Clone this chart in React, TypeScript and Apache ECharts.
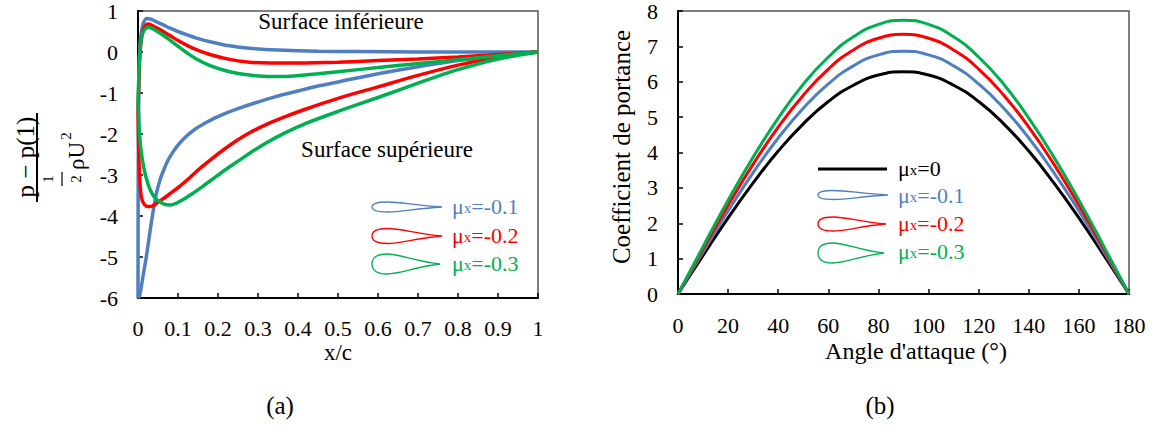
import React, { useEffect, useRef } from 'react';
import * as echarts from 'echarts';

// ---------- Data: (a) pressure distribution, x/c vs (p - p(1)) / (1/2 rho U^2) ----------
const blueUpper: number[][] = [[0,-6],[0.0005,-3],[0.002,-0.8],[0.005,0.2],[0.009,0.52],[0.014,0.72],[0.022,0.82],[0.032,0.8],[0.045,0.74],[0.063,0.66],[0.08,0.58],[0.1,0.5],[0.125,0.41],[0.146,0.34],[0.18,0.25],[0.229,0.15],[0.279,0.09],[0.35,0.05],[0.45,0.02],[0.55,0.01],[0.7,0],[0.85,0],[1,0]];
const blueLower: number[][] = [[0,-6],[0.004,-5.95],[0.012,-5.5],[0.021,-4.98],[0.03,-4.38],[0.038,-3.88],[0.046,-3.45],[0.055,-3.12],[0.065,-2.86],[0.075,-2.64],[0.088,-2.43],[0.1,-2.27],[0.115,-2.11],[0.13,-1.98],[0.146,-1.86],[0.165,-1.75],[0.19,-1.62],[0.22,-1.49],[0.25,-1.38],[0.29,-1.25],[0.34,-1.1],[0.4,-0.95],[0.45,-0.83],[0.5,-0.73],[0.6,-0.53],[0.7,-0.36],[0.8,-0.21],[0.9,-0.09],[1,0]];
const redUpper: number[][] = [[0,-1.5],[0.002,-0.8],[0.004,-0.2],[0.007,0.2],[0.012,0.5],[0.018,0.64],[0.026,0.68],[0.035,0.65],[0.05,0.57],[0.063,0.5],[0.08,0.4],[0.1,0.28],[0.125,0.15],[0.146,0.06],[0.18,-0.06],[0.229,-0.18],[0.279,-0.25],[0.33,-0.27],[0.4,-0.27],[0.5,-0.25],[0.6,-0.21],[0.7,-0.17],[0.8,-0.12],[0.9,-0.06],[1,0]];
const redLower: number[][] = [[0,-1.5],[0.001,-2.0],[0.003,-2.8],[0.006,-3.35],[0.01,-3.6],[0.016,-3.72],[0.024,-3.77],[0.032,-3.77],[0.042,-3.72],[0.055,-3.63],[0.07,-3.53],[0.085,-3.42],[0.105,-3.27],[0.13,-3.06],[0.155,-2.84],[0.185,-2.6],[0.213,-2.39],[0.245,-2.17],[0.279,-1.97],[0.32,-1.77],[0.37,-1.57],[0.42,-1.39],[0.5,-1.13],[0.6,-0.85],[0.7,-0.57],[0.8,-0.32],[0.9,-0.13],[1,0]];
const greenUpper: number[][] = [[0,-1.2],[0.002,-0.6],[0.004,-0.1],[0.007,0.25],[0.012,0.47],[0.02,0.58],[0.028,0.6],[0.038,0.56],[0.05,0.49],[0.063,0.41],[0.08,0.29],[0.1,0.14],[0.125,-0.04],[0.146,-0.17],[0.18,-0.33],[0.229,-0.48],[0.279,-0.56],[0.33,-0.6],[0.38,-0.59],[0.45,-0.53],[0.5,-0.48],[0.6,-0.38],[0.7,-0.28],[0.8,-0.19],[0.9,-0.09],[1,0]];
const greenLower: number[][] = [[0,-1.2],[0.002,-1.65],[0.005,-2.15],[0.009,-2.5],[0.014,-2.8],[0.02,-3.05],[0.03,-3.35],[0.042,-3.55],[0.055,-3.66],[0.068,-3.72],[0.08,-3.73],[0.095,-3.69],[0.113,-3.6],[0.135,-3.46],[0.163,-3.27],[0.195,-3.04],[0.229,-2.8],[0.255,-2.63],[0.279,-2.47],[0.32,-2.22],[0.37,-1.96],[0.42,-1.74],[0.5,-1.45],[0.6,-1.11],[0.7,-0.76],[0.8,-0.43],[0.9,-0.17],[1,0]];

const xcTicks = [0, 0.1, 0.2, 0.3, 0.4, 0.5, 0.6, 0.7, 0.8, 0.9, 1];

// ---------- Data: (b) lift coefficient vs angle of attack ----------
const angles = [0, 10, 20, 30, 40, 50, 60, 70, 80, 90, 100, 110, 120, 130, 140, 150, 160, 170, 180];
const clMu0 = [0, 1.09, 2.15, 3.14, 4.04, 4.81, 5.44, 5.90, 6.19, 6.28, 6.19, 5.90, 5.44, 4.81, 4.04, 3.14, 2.15, 1.09, 0];
const clMu01 = [0, 1.19, 2.35, 3.43, 4.41, 5.25, 5.94, 6.45, 6.76, 6.86, 6.76, 6.45, 5.94, 5.25, 4.41, 3.43, 2.35, 1.19, 0];
const clMu02 = [0, 1.27, 2.51, 3.67, 4.72, 5.62, 6.36, 6.90, 7.23, 7.34, 7.23, 6.90, 6.36, 5.62, 4.72, 3.67, 2.51, 1.27, 0];
const clMu03 = [0, 1.34, 2.65, 3.87, 4.97, 5.93, 6.70, 7.27, 7.62, 7.74, 7.62, 7.27, 6.70, 5.93, 4.97, 3.87, 2.65, 1.34, 0];

const legendLabels = ['0', '-0.1', '-0.2', '-0.3'];

const BLUE = '#4F7FC0';
const RED = '#FF0000';
const GREEN = '#00B050';
const BLACK = '#000000';
const SERIF = 'Liberation Serif';

function foilPath(L: number, h: number): string {
  return `M ${L} 0 C ${0.62 * L} ${-0.3 * h} ${0.42 * L} ${-h} ${0.22 * L} ${-h} ` +
    `C ${0.06 * L} ${-h} 0 ${-0.6 * h} 0 0 ` +
    `C 0 ${0.6 * h} ${0.06 * L} ${h} ${0.22 * L} ${h} ` +
    `C ${0.42 * L} ${h} ${0.62 * L} ${0.3 * h} ${L} 0 Z`;
}

let registered = false;
function registerFoils() {
  if (registered) return;
  registered = true;
  echarts.graphic.registerShape('foilA1', echarts.graphic.extendPath(foilPath(70, 5), {}) as any);
  echarts.graphic.registerShape('foilA2', echarts.graphic.extendPath(foilPath(70, 7.5), {}) as any);
  echarts.graphic.registerShape('foilA3', echarts.graphic.extendPath(foilPath(68, 10), {}) as any);
  echarts.graphic.registerShape('foilB1', echarts.graphic.extendPath(foilPath(70, 4.5), {}) as any);
  echarts.graphic.registerShape('foilB2', echarts.graphic.extendPath(foilPath(68, 7), {}) as any);
  echarts.graphic.registerShape('foilB3', echarts.graphic.extendPath(foilPath(66, 10), {}) as any);
}

function muText(x: number, y: number, label: string, color: string) {
  return {
    type: 'text',
    x, y,
    style: {
      text: `{a|μ}{b|x}{c|=${label}}`,
      textAlign: 'left',
      textVerticalAlign: 'middle',
      rich: {
        a: { fontFamily: SERIF, fontSize: 22, fill: color, verticalAlign: 'bottom' },
        b: { fontFamily: SERIF, fontSize: 15, fill: color, verticalAlign: 'bottom', padding: [0, 0, 2, 0] },
        c: { fontFamily: SERIF, fontSize: 22, fill: color, verticalAlign: 'bottom' },
      },
    },
  };
}

function rotText(x: number, y: number, text: string, size: number) {
  return {
    type: 'text', x, y, rotation: Math.PI / 2,
    style: { text, fontFamily: SERIF, fontSize: size, fill: BLACK, textAlign: 'center', textVerticalAlign: 'middle' },
  };
}

function plainText(x: number, y: number, text: string, size: number) {
  return {
    type: 'text', x, y,
    style: { text, fontFamily: SERIF, fontSize: size, fill: BLACK, textAlign: 'center', textVerticalAlign: 'middle' },
  };
}

export default function App() {
  const ref = useRef<HTMLDivElement>(null);

  useEffect(() => {
    document.body.style.margin = '0';
    registerFoils();
    const chart = echarts.init(ref.current!, null, { renderer: 'svg' });

    const axisLabel = { color: BLACK, fontFamily: SERIF, fontSize: 22 };
    const axisLine = { show: true, onZero: false, lineStyle: { color: BLACK, width: 2 } };
    const axisTick = { show: true, inside: true, length: 5, lineStyle: { color: BLACK, width: 1.5 } };

    const leftLine = (name: string, data: number[][], color: string, z: number) => ({
      name, type: 'line', xAxisIndex: 0, yAxisIndex: 0, data, showSymbol: false,
      smooth: 0.3, z,
      lineStyle: { color, width: 3.5 }, itemStyle: { color },
    });
    const rightLine = (name: string, data: number[], color: string, z: number) => ({
      name, type: 'line', xAxisIndex: 1, yAxisIndex: 1,
      data: angles.map((a, i) => [a, data[i]]), showSymbol: false,
      smooth: true, z,
      lineStyle: { color, width: 3 }, itemStyle: { color },
    });

    const option: any = {
      animation: false,
      backgroundColor: '#ffffff',
      grid: [
        { left: 138, top: 11, width: 400, height: 287, show: true, borderColor: '#555', borderWidth: 1.5, backgroundColor: 'transparent' },
        { left: 678, top: 11, width: 451, height: 283, show: true, borderColor: '#555', borderWidth: 1.5, backgroundColor: 'transparent' },
      ],
      xAxis: [
        {
          type: 'value', gridIndex: 0, min: xcTicks[0], max: xcTicks[xcTicks.length - 1], interval: 0.1,
          axisLine, axisTick, splitLine: { show: false },
          axisLabel: { ...axisLabel, margin: 19, formatter: (v: number) => String(Math.round(v * 10) / 10) },
        },
        {
          type: 'value', gridIndex: 1, min: angles[0], max: angles[angles.length - 1], interval: 20,
          axisLine, axisTick, splitLine: { show: false },
          axisLabel: { ...axisLabel, margin: 20 },
        },
      ],
      yAxis: [
        {
          type: 'value', gridIndex: 0, min: -6, max: 1, interval: 1,
          axisLine, axisTick, splitLine: { show: false },
          axisLabel: { ...axisLabel, margin: 20 },
        },
        {
          type: 'value', gridIndex: 1, min: 0, max: 8, interval: 1,
          axisLine, axisTick, splitLine: { show: false },
          axisLabel: { ...axisLabel, margin: 20 },
        },
      ],
      series: [
        leftLine('b_up', blueUpper, BLUE, 2),
        leftLine('b_lo', blueLower, BLUE, 2),
        leftLine('r_up', redUpper, RED, 3),
        leftLine('r_lo', redLower, RED, 3),
        leftLine('g_up', greenUpper, GREEN, 4),
        leftLine('g_lo', greenLower, GREEN, 4),
        rightLine('mu0', clMu0, BLACK, 2),
        rightLine('mu1', clMu01, BLUE, 3),
        rightLine('mu2', clMu02, RED, 4),
        rightLine('mu3', clMu03, GREEN, 5),
      ],
      graphic: [
        // annotations (a)
        plainText(341, 21, 'Surface inférieure', 23),
        plainText(387, 149, 'Surface supérieure', 23),
        plainText(338, 352, 'x/c', 23),
        plainText(280, 405, '(a)', 25),
        // y-label (a): fraction
        rotText(25, 157, 'p − p(1)', 25),
        { type: 'line', shape: { x1: 37, y1: 113, x2: 37, y2: 202 }, style: { stroke: BLACK, lineWidth: 2 } },
        rotText(48, 179, '1', 15),
        { type: 'line', shape: { x1: 62, y1: 172, x2: 62, y2: 186 }, style: { stroke: BLACK, lineWidth: 1.2 } },
        rotText(76, 179, '2', 15),
        rotText(76, 156, 'ρU', 23),
        rotText(66, 136, '2', 15),
        // legend (a)
        { type: 'foilA1', x: 372, y: 207, style: { fill: 'none', stroke: BLUE, lineWidth: 1.3 } },
        { type: 'foilA2', x: 372, y: 236, style: { fill: 'none', stroke: RED, lineWidth: 1.3 } },
        { type: 'foilA3', x: 372, y: 264, style: { fill: 'none', stroke: GREEN, lineWidth: 1.3 } },
        muText(452, 206, legendLabels[1], BLUE),
        muText(452, 235, legendLabels[2], RED),
        muText(452, 263, legendLabels[3], GREEN),
        // (b)
        plainText(916, 351, "Angle d'attaque (°)", 24),
        rotText(621, 147, 'Coefficient de portance', 25),
        plainText(880, 405, '(b)', 25),
        { type: 'line', shape: { x1: 818, y1: 169, x2: 887, y2: 169 }, style: { stroke: BLACK, lineWidth: 3 } },
        { type: 'foilB1', x: 818, y: 195, style: { fill: 'none', stroke: BLUE, lineWidth: 1.3 } },
        { type: 'foilB2', x: 818, y: 224, style: { fill: 'none', stroke: RED, lineWidth: 1.3 } },
        { type: 'foilB3', x: 818, y: 253, style: { fill: 'none', stroke: GREEN, lineWidth: 1.3 } },
        muText(898, 168, legendLabels[0], BLACK),
        muText(898, 195, legendLabels[1], BLUE),
        muText(898, 223, legendLabels[2], RED),
        muText(898, 251, legendLabels[3], GREEN),
      ],
    };

    chart.setOption(option);
    return () => chart.dispose();
  }, []);

  return <div ref={ref} style={{ width: 1154, height: 425 }} />;
}
